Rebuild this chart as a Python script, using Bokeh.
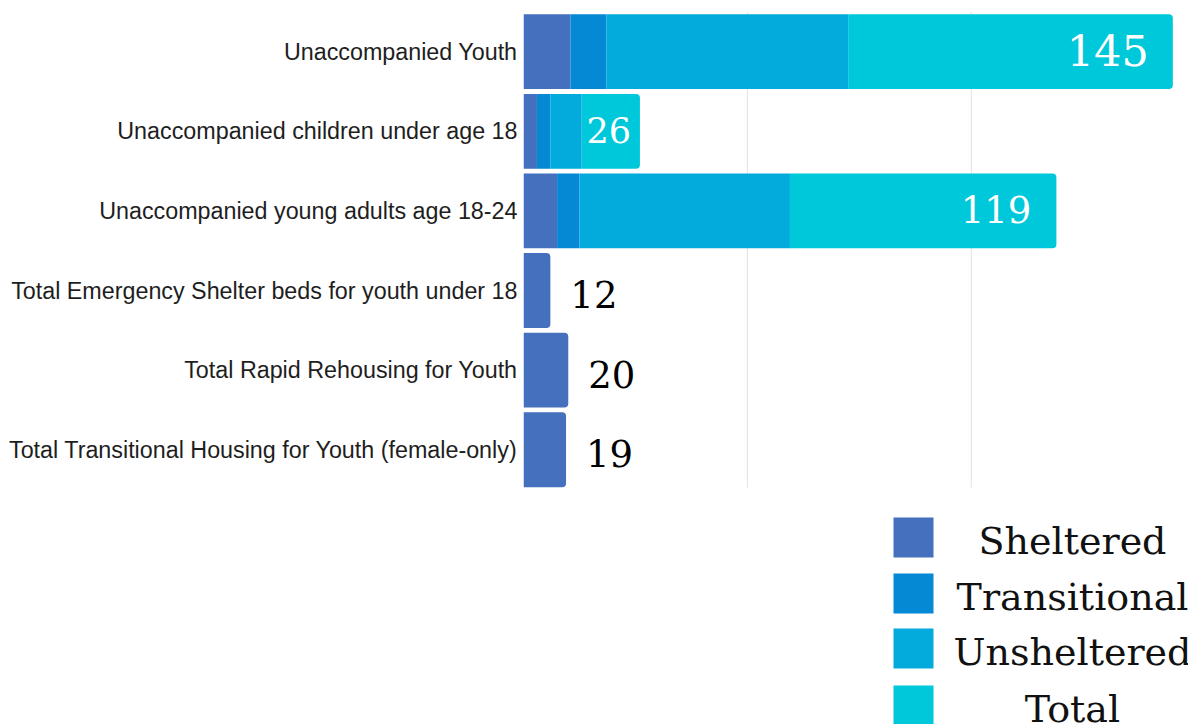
from bokeh.plotting import figure
from bokeh.models import Range1d, ColumnDataSource, FixedTicker, LinearAxis
from bokeh.core.properties import value
from bokeh.embed import file_html
from bokeh.resources import INLINE

# ---------------- data ----------------
categories = [
    "Unaccompanied Youth",
    "Unaccompanied children under age 18",
    "Unaccompanied young adults age 18-24",
    "Total Emergency Shelter beds for youth under 18",
    "Total Rapid Rehousing for Youth",
    "Total Transitional Housing for Youth (female-only)",
]
series = ["Sheltered", "Transitional", "Unsheltered", "Total"]
sheltered = [10.5, 3, 7.5, 6, 10, 9.5]
transitional = [8, 3, 5, 0, 0, 0]
unsheltered = [54, 7, 47, 0, 0, 0]
total = [72.5, 13, 59.5, 0, 0, 0]
value_labels = ["145", "26", "119", "12", "20", "19"]
grid_ticks = [50, 100]

# ---------------- style ----------------
colors = ["#4570BE", "#0589D4", "#02ABDB", "#00C8DB"]
W, H = 1188, 724
FRAME_LEFT, FRAME_TOP = 523, 11
X_END = 148.5
Y_START, Y_END = -3.452, 5.505
ypos = [5, 4, 3, 2, 1, 0]
BAR_H = 0.94

frame_w = W - FRAME_LEFT
frame_h = H - FRAME_TOP


def px2x(px):  # picture px -> data x
    return (px - FRAME_LEFT) / frame_w * X_END


def px2y(py):  # picture px -> data y
    return Y_END - (py - FRAME_TOP) / frame_h * (Y_END - Y_START)


p = figure(
    width=W, height=H,
    x_range=Range1d(0, X_END), y_range=Range1d(Y_START, Y_END),
    x_axis_location=None, y_axis_location=None,
    toolbar_location=None, output_backend="svg",
    min_border_left=FRAME_LEFT, min_border_right=0,
    min_border_top=FRAME_TOP, min_border_bottom=0,
    background_fill_color="white", border_fill_color="white",
)
p.outline_line_color = None
p.grid.visible = False

# y axis with category labels
yaxis = LinearAxis(ticker=FixedTicker(ticks=ypos))
yaxis.major_label_overrides = {y: c for y, c in zip(ypos, categories)}
yaxis.axis_line_color = None
yaxis.major_tick_line_color = None
yaxis.minor_tick_line_color = None
yaxis.major_tick_out = 0
yaxis.major_tick_in = 0
yaxis.minor_tick_out = 0
yaxis.major_label_standoff = 6
yaxis.major_label_text_font = "Liberation Sans"
yaxis.major_label_text_font_size = "23.3px"
yaxis.major_label_text_color = "#1e1e1e"
p.add_layout(yaxis, "left")

# gridlines (only within the bar area)
p.segment(x0=grid_ticks, x1=grid_ticks, y0=[min(ypos) - 0.475] * len(grid_ticks),
          y1=[max(ypos) + 0.5] * len(grid_ticks), line_color="#e2e2e2", line_width=1)

# stacked rows (first three)
n_stack = 3
top_src = ColumnDataSource(dict(
    y=ypos[:n_stack],
    Sheltered=sheltered[:n_stack], Transitional=transitional[:n_stack],
    Unsheltered=unsheltered[:n_stack], Total=total[:n_stack],
))
rs = p.hbar_stack(series, y="y", height=BAR_H, color=colors, source=top_src, line_color=None)
rs[-1].glyph.border_radius = (0, 4, 4, 0)

# single-series rows
bot_src = ColumnDataSource(dict(y=ypos[n_stack:], v=sheltered[n_stack:]))
p.hbar(y="y", right="v", left=0, height=BAR_H, color=colors[0], line_color=None,
       source=bot_src, border_radius=(0, 4, 4, 0))

# value labels
sums = [s + t + u + tt for s, t, u, tt in zip(sheltered, transitional, unsheltered, total)]
in_src = ColumnDataSource(dict(
    x=sums[:n_stack], y=ypos[:n_stack], t=value_labels[:n_stack],
    off=[-24, -9, -25], fs=["43px", "35px", "37px"],
))
p.text(x="x", y="y", text="t", x_offset="off", y_offset=-1, source=in_src,
       text_align="right", text_baseline="middle", text_color="white",
       text_font=value("DejaVu Serif"), text_font_size="fs")
out_src = ColumnDataSource(dict(
    x=sheltered[n_stack:], y=ypos[n_stack:], t=value_labels[n_stack:],
))
p.text(x="x", y="y", text="t", x_offset=20, y_offset=4, source=out_src,
       text_align="left", text_baseline="middle", text_color="black",
       text_font=value("DejaVu Serif"), text_font_size="37px")

# legend (custom, centered labels)
leg_rows_py = [537, 593, 648, 705]
leg_src = ColumnDataSource(dict(
    x=[px2x(913)] * 4, y=[px2y(v) for v in leg_rows_py], c=colors,
    tx=[px2x(1072)] * 4, t=series,
))
p.rect(x="x", y="y", width=40, height=40, width_units="screen", height_units="screen",
       fill_color="c", line_color=None, source=leg_src)
p.text(x="tx", y="y", text="t", y_offset=3, source=leg_src, text_align="center",
       text_baseline="middle", text_color="#111111",
       text_font=value("DejaVu Serif"), text_font_size="38px")

open("out.html", "w").write(file_html(p, INLINE))
